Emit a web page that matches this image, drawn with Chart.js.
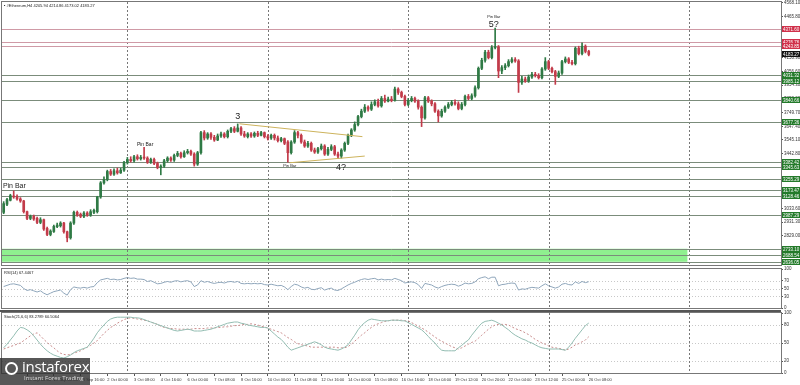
<!DOCTYPE html>
<html><head><meta charset="utf-8">
<script src="https://cdn.jsdelivr.net/npm/chart.js@4"></script>
<style>
html,body{margin:0;padding:0;background:#fff;}
#wrap{position:relative;width:800px;height:385px;overflow:hidden;}
canvas{position:absolute;left:0;}
#logo{position:absolute;left:0;top:358px;width:90px;height:27px;background:rgba(45,45,45,0.8);color:#fff;font-family:"Open Sans","Liberation Sans",sans-serif;}
#logo .big{position:absolute;left:22px;top:0px;font-size:15px;line-height:17px;letter-spacing:-0.3px;}
#logo .small{position:absolute;left:24px;top:17px;font-size:6px;line-height:7px;color:#ddd;}
#logo .ico{position:absolute;left:5px;top:4px;width:13px;height:13px;border-radius:50%;border:2px solid #fff;box-sizing:border-box;}
</style></head><body>
<div id="wrap">
<canvas id="c1" width="800" height="266" style="top:0px"></canvas>
<canvas id="c2" width="800" height="44" style="top:266px"></canvas>
<canvas id="c3" width="800" height="75" style="top:310px"></canvas>
<div id="logo"><div class="ico"></div><div class="big">instaforex</div><div class="small">Instant Forex Trading</div></div>
</div>
<script>
// ===== DATA =====
const opens = [3005,3065,3095,3125,3122,3105,3090,3010,2960,2975, 2960,2930,2950,2885,2840,2862,2898,2905,2925,2860,
 2815,2925,3005,2990,2975,3000,2985,3005,3010,3120, 3225,3250,3310,3290,3315,3300,3320,3375,3400,3390,
 3420,3405,3415,3410,3380,3400,3370,3340,3350,3390, 3410,3395,3430,3445,3420,3450,3460,3440,3365,3450,
 3600,3560,3590,3565,3545,3575,3590,3570,3610,3630, 3610,3635,3590,3570,3590,3575,3595,3580,3600,3570,
 3560,3580,3560,3540,3555,3530,3450,3530,3600,3580, 3530,3500,3520,3470,3455,3480,3500,3440,3475,3495,
 3440,3425,3470,3520,3580,3620,3660,3720,3760,3790, 3775,3810,3830,3800,3855,3835,3850,3840,3925,3900,
 3870,3810,3840,3855,3835,3790,3710,3860,3835,3815, 3760,3725,3760,3790,3810,3825,3815,3780,3810,3870,
 3855,3875,3935,4080,4140,4200,4160,4235,4240,4060, 4085,4100,4130,4145,4135,3975,4000,3985,4015,4035,
 4025,4010,4075,4130,4080,4055,4020,4045,4130,4150, 4125,4115,4230,4190,4245,4205.94];
const highs = [3085,3110,3140,3165,3135,3115,3095,3015,2985,2985, 2970,2965,2955,2895,2875,2910,2925,2935,2930,2865,
 2935,3015,3015,3000,3010,3010,3025,3030,3125,3235, 3270,3320,3325,3330,3335,3335,3385,3415,3420,3430,
 3435,3430,3490,3420,3410,3410,3380,3360,3400,3420, 3420,3440,3460,3455,3465,3475,3470,3450,3460,3610,
 3615,3600,3600,3580,3590,3605,3600,3620,3640,3645, 3665,3645,3610,3600,3600,3605,3610,3610,3605,3585,
 3590,3590,3575,3565,3560,3540,3540,3615,3610,3590, 3545,3535,3530,3485,3490,3515,3510,3490,3510,3505,
 3455,3480,3530,3590,3630,3680,3730,3775,3810,3800, 3830,3845,3850,3870,3880,3865,3870,3940,3935,3910,
 3880,3855,3870,3865,3845,3800,3870,3870,3845,3825, 3770,3775,3800,3825,3840,3845,3830,3825,3880,3885,
 3890,3950,4090,4155,4215,4215,4250,4380,4250,4100, 4115,4145,4160,4160,4145,4020,4015,4030,4050,4050,
 4040,4085,4160,4140,4090,4065,4060,4140,4165,4160, 4140,4240,4245,4270,4255,4214.86];
const lows = [2995,3055,3090,3110,3095,3080,3000,2950,2950,2945, 2920,2920,2870,2830,2830,2855,2890,2895,2850,2785,
 2805,2915,2975,2965,2965,2975,2975,2995,3000,3110, 3215,3240,3280,3280,3290,3295,3310,3365,3380,3380,
 3395,3395,3400,3370,3370,3360,3330,3285,3340,3380, 3385,3385,3420,3410,3415,3440,3430,3350,3355,3440,
 3545,3550,3550,3535,3540,3565,3560,3560,3600,3600, 3605,3580,3565,3560,3565,3565,3570,3575,3560,3545,
 3550,3545,3530,3530,3510,3380,3440,3520,3560,3520, 3490,3490,3460,3445,3445,3470,3430,3430,3465,3430,
 3405,3410,3460,3510,3570,3610,3650,3710,3750,3760, 3765,3800,3790,3790,3825,3830,3830,3835,3885,3860,
 3800,3800,3830,3825,3775,3645,3700,3825,3800,3750, 3680,3715,3750,3780,3800,3805,3770,3770,3800,3845,
 3845,3865,3925,4070,4125,4150,4150,4225,4010,4040, 4070,4090,4120,4125,3900,3960,3975,3975,4005,4015,
 4000,4000,4065,4070,4045,3960,4010,4035,4120,4115, 4105,4105,4180,4180,4195,4173.02];
const closes = [3070,3100,3130,3120,3105,3090,3010,2960,2975,2955, 2930,2950,2880,2840,2865,2900,2910,2925,2860,2815,
 2925,3005,2985,2975,3000,2985,3010,3020,3120,3225, 3250,3310,3290,3315,3300,3320,3375,3400,3390,3420,
 3405,3415,3410,3380,3400,3370,3340,3350,3390,3410, 3395,3430,3445,3420,3450,3460,3440,3365,3450,3600,
 3560,3590,3565,3545,3575,3590,3570,3610,3630,3610, 3635,3590,3575,3590,3575,3595,3580,3600,3570,3560,
 3580,3560,3540,3555,3520,3450,3530,3600,3580,3530, 3500,3520,3470,3455,3480,3500,3440,3475,3495,3440,
 3425,3470,3520,3580,3620,3660,3720,3760,3790,3775, 3810,3830,3800,3855,3835,3850,3840,3925,3900,3870,
 3810,3840,3855,3835,3790,3710,3860,3835,3815,3760, 3725,3760,3790,3810,3825,3815,3780,3810,3870,3855,
 3875,3935,4080,4140,4200,4160,4235,4240,4060,4085, 4100,4130,4145,4135,3975,4000,3985,4015,4035,4025,
 4010,4075,4130,4080,4055,4020,4045,4130,4150,4125, 4115,4230,4190,4245,4206,4183.27];

const rsiValues = [55,58,61,62,60,58,50,45,47,44, 41,44,38,34,38,42,44,46,38,33,
 47,54,52,51,53,51,54,55,65,72, 74,76,73,74,72,73,76,78,76,77,
 74,74,73,68,70,66,62,63,66,68, 66,69,70,67,69,70,67,55,59,70,
 66,68,65,63,65,66,64,67,68,66, 68,63,62,63,62,63,62,63,60,59,
 61,59,57,58,54,47,55,61,59,54, 51,53,48,47,50,52,46,49,51,46,
 45,49,54,59,63,66,70,73,75,73, 75,76,72,74,72,73,72,76,73,70,
 64,66,67,65,60,50,63,61,59,54, 51,55,58,60,61,60,56,59,64,62,
 63,67,75,78,80,75,79,79,57,60, 61,63,64,63,46,49,48,51,53,52,
 51,57,62,57,54,51,54,61,63,60, 59,67,63,68,65,67.45];

const stochMain = [42,48,55,62,70,76,75,72,68,62, 55,48,42,37,33,30,28,26,25,27,
 30,34,37,39,41,43,50,58,67,74, 80,86,90,92,93,93,93,93,93,92,
 92,91,89,87,85,83,81,79,77,75, 73,71,70,71,72,73,72,70,70,70,
 71,72,73,75,77,79,81,83,84,85, 85,83,82,80,79,78,77,76,76,75,
 70,65,60,56,50,43,38,40,42,44, 46,48,50,52,50,47,43,41,40,39,
 38,40,43,47,55,63,72,79,84,88, 90,89,88,87,87,87,88,88,88,87,
 87,84,81,78,75,72,67,61,55,50, 43,38,37,37,37,37,42,46,51,55,
 63,70,77,83,86,87,88,86,83,80, 76,72,67,63,60,57,55,52,50,47,
 44,42,41,40,40,40,40,39,38,43, 50,58,65,72,79,83.28];

const stochSignal = [40,42,44,46,48,50,54,58,62,65, 67,62,56,51,46,42,37,33,31,30,
 31,33,35,37,40,43,46,50,54,60, 66,71,76,79,83,86,89,91,92,91,
 90,89,88,87,85,83,81,78,76,75, 74,74,73,73,73,73,73,74,74,74,
 74,75,75,75,76,76,77,77,78,79, 79,80,81,81,82,81,80,78,77,75,
 73,71,69,67,63,59,56,52,49,47, 46,45,43,43,43,43,43,43,43,43,
 42,42,42,44,48,53,58,63,67,72, 76,80,82,84,86,87,88,88,88,88,
 87,87,84,81,78,75,72,68,64,60, 56,53,50,47,44,42,40,42,45,48,
 51,53,58,63,68,73,77,80,81,81, 81,80,77,74,72,70,67,64,60,56,
 53,50,48,45,43,42,41,40,38,40, 43,47,49,52,55,60.51];

const priceTicks = [4568.10,4465.80,4363.50,4261.20,4158.90,4056.60,3954.30,3852.00,3749.70,3647.40,
 3545.10,3442.80,3340.50,3238.20,3135.90,3033.60,2931.30,2829.00,2726.70,2624.40];
const levelValues = [4371.60,4276.76,4243.85,4031.32,3985.12,3840.66,3677.36,3382.42,3345.63,3255.29,3173.47,3128.46,2987.29,2733.10,2688.54,2636.05];
const levelKinds  = ['r','r','r','g','g','g','g','g','g','g','g','g','g','g','g','g'];
const lastPrice = 4183.27;
const zoneTop = 2733.10, zoneBottom = 2636.05, zoneEndBar = 204.5;
const trendUpper = [{x:70.5,y:3666},{x:107.3,y:3570}];
const trendLower = [{x:85.5,y:3375},{x:108,y:3425}];
const annoText  = ['Pin Bar','Pin Bar','3','Pin Bar','4?','Pin Bar','5?'];
const annoBar   = [3.2,42.3,70,85.6,100.9,146.6,146.6];
const annoPrice = [3203,3509,3718,3352,3337,4464,4404];
const annoSize  = [7,5,9,4,9,4,9];
const separators = [37,79,121,163,205];
const xTickLabels = ['28 Sep 00:00','29 Sep 08:00','30 Sep 16:00','2 Oct 00:00','3 Oct 08:00','4 Oct 16:00','6 Oct 00:00','7 Oct 08:00','8 Oct 16:00','10 Oct 00:00','11 Oct 08:00','12 Oct 16:00','14 Oct 00:00','15 Oct 08:00','16 Oct 16:00','18 Oct 04:00','19 Oct 12:00','20 Oct 20:00','22 Oct 04:00','23 Oct 12:00','25 Oct 00:00','26 Oct 08:00'];
const firstTickBar = 7, tickStep = 8;
const rsiTicks = [100,70,50,30,0];
const rsiLevels = [70,50,30];
const stochTicks = [100,80,50,20,0];
const stochLevels = [80,50,20];
const headerMain = '\u25AA #Ethereum,H4 4205.94 4214.86 4173.02 4183.27';
const headerRsi = 'RSI(14) 67.4467';
const headerStoch = 'Stoch(21,6,6) 83.2789 60.5064';

// ===== STYLE / BUILD =====
const FONT = '"Liberation Sans", Arial, sans-serif';
const XMIN = -0.5, XMAX = 232.5;
const AXW = 19;
const bull = '#2f7a45', bear = '#c23b4a';
const candleColors = closes.map((c,i)=> c>=opens[i] ? bull : bear);
const bodies = closes.map((c,i)=>({x:i, y:[opens[i], c]}));
const wicks = closes.map((c,i)=>({x:i, y:[lows[i], highs[i]]}));

function xScaleHidden(){ return {type:'linear', min:XMIN, max:XMAX, display:false, offset:false}; }
function yRight(min,max,ticksArr,fmt){
  return {position:'right', min, max,
    afterFit:s=>{s.width=AXW; s.paddingTop=0; s.paddingBottom=0;},
    afterBuildTicks:s=>{s.ticks = ticksArr.map(v=>({value:v}));},
    ticks:{autoSkip:false, font:{size:4.5,family:FONT}, color:'#333', padding:1, callback:fmt},
    grid:{display:true, drawOnChartArea:false, tickLength:2, color:'#555'},
    border:{display:true, color:'#555'}};
}
function drawSeparators(ctx, a, x){
  ctx.save(); ctx.strokeStyle='#777'; ctx.lineWidth=1; ctx.setLineDash([2,2]);
  separators.forEach(b=>{const px=Math.round(x.getPixelForValue(b))+0.5; ctx.beginPath(); ctx.moveTo(px,a.top); ctx.lineTo(px,a.bottom); ctx.stroke();});
  ctx.restore();
}
function drawFrame(ctx, a){
  ctx.save(); ctx.strokeStyle='#777'; ctx.lineWidth=1;
  ctx.strokeRect(a.left-0.5, a.top-0.5, a.right-a.left+1, a.bottom-a.top+1);
  ctx.restore();
}
function drawHeader(ctx, a, txt){
  ctx.save(); ctx.fillStyle='#222'; ctx.font='4px '+FONT; ctx.textBaseline='top'; ctx.textAlign='left';
  ctx.fillText(txt, a.left+2, a.top+1.5); ctx.restore();
}
function drawLevelLines(ctx, a, y, vals){
  ctx.save(); ctx.strokeStyle='#c8c8c8'; ctx.lineWidth=1; ctx.setLineDash([1,2]);
  vals.forEach(v=>{const py=Math.round(y.getPixelForValue(v))+0.5; ctx.beginPath(); ctx.moveTo(a.left,py); ctx.lineTo(a.right,py); ctx.stroke();});
  ctx.restore();
}

const mainDeco = {
  id:'mainDeco',
  beforeDatasetsDraw(chart){
    const {ctx, chartArea:a, scales:{x,y}} = chart;
    ctx.save();
    const zx1 = a.left, zx2 = x.getPixelForValue(zoneEndBar);
    const zy1 = y.getPixelForValue(zoneTop), zy2 = y.getPixelForValue(zoneBottom);
    ctx.fillStyle='#8ff08f'; ctx.fillRect(zx1, zy1, zx2-zx1, zy2-zy1);
    ctx.restore();
    drawSeparators(ctx, a, x);
    ctx.save(); ctx.lineWidth=1;
    levelValues.forEach((v,i)=>{
      const py=Math.round(y.getPixelForValue(v))+0.5;
      ctx.strokeStyle = levelKinds[i]==='r' ? '#cf9aa6' : '#7b8c7b';
      ctx.beginPath(); ctx.moveTo(a.left,py); ctx.lineTo(a.right,py); ctx.stroke();
    });
    ctx.restore();
  },
  afterDraw(chart){
    const {ctx, chartArea:a, scales:{x,y}} = chart;
    drawFrame(ctx, a);
    drawHeader(ctx, a, headerMain);
    ctx.save(); ctx.fillStyle='#222'; ctx.textAlign='center'; ctx.textBaseline='middle';
    annoText.forEach((t,i)=>{
      ctx.font = annoSize[i]+'px '+FONT;
      ctx.fillText(t, x.getPixelForValue(annoBar[i]), y.getPixelForValue(annoPrice[i]));
    });
    ctx.restore();
    ctx.save(); ctx.font='4.5px '+FONT; ctx.textBaseline='middle'; ctx.textAlign='left';
    const box=(v,bg)=>{const py=Math.round(y.getPixelForValue(v)); ctx.fillStyle=bg; ctx.fillRect(a.right+1, py-3, 800-a.right-1, 6); ctx.fillStyle='#fff'; ctx.fillText(v.toFixed(2), a.right+2, py+0.5);};
    levelValues.forEach((v,i)=> box(v, levelKinds[i]==='r' ? '#d0304a' : '#237a2a'));
    box(lastPrice, '#111');
    ctx.restore();
  }
};

new Chart(document.getElementById('c1'), {
  type:'bar',
  data:{datasets:[
    {type:'bar', data:wicks, backgroundColor:candleColors, barThickness:1, grouped:false, order:3},
    {type:'bar', data:bodies, backgroundColor:candleColors, barThickness:2, grouped:false, minBarLength:1, order:2},
    {type:'line', data:trendUpper, borderColor:'#cdb35c', borderWidth:1, pointRadius:0, order:1},
    {type:'line', data:trendLower, borderColor:'#cdb35c', borderWidth:1, pointRadius:0, order:1}
  ]},
  options:{responsive:false, animation:false, events:[],
    layout:{padding:{left:2,top:2,bottom:1,right:0}},
    plugins:{legend:{display:false}, tooltip:{enabled:false}},
    scales:{x:xScaleHidden(), y:yRight(2612,4575,priceTicks,v=>v.toFixed(2))}
  },
  plugins:[mainDeco]
});

const rsiDeco = {
  id:'rsiDeco',
  beforeDatasetsDraw(chart){ const {ctx, chartArea:a, scales:{x,y}} = chart; drawLevelLines(ctx,a,y,rsiLevels); drawSeparators(ctx,a,x); },
  afterDraw(chart){ const {ctx, chartArea:a} = chart; drawFrame(ctx,a); drawHeader(ctx,a,headerRsi); }
};
new Chart(document.getElementById('c2'), {
  type:'line',
  data:{datasets:[{data:rsiValues.map((v,i)=>({x:i,y:v})), borderColor:'#8fa6bb', borderWidth:1, pointRadius:0, tension:0}]},
  options:{responsive:false, animation:false, events:[],
    layout:{padding:{left:2,top:3,bottom:2,right:0}},
    plugins:{legend:{display:false}, tooltip:{enabled:false}},
    scales:{x:xScaleHidden(), y:yRight(0,100,rsiTicks,v=>String(v))}
  },
  plugins:[rsiDeco]
});

const stochDeco = {
  id:'stochDeco',
  beforeDatasetsDraw(chart){ const {ctx, chartArea:a, scales:{x,y}} = chart; drawLevelLines(ctx,a,y,stochLevels); drawSeparators(ctx,a,x); },
  afterDraw(chart){
    const {ctx, chartArea:a} = chart; drawFrame(ctx,a); drawHeader(ctx,a,headerStoch);
    ctx.save(); ctx.strokeStyle='#555'; ctx.lineWidth=2; ctx.beginPath(); ctx.moveTo(0,a.top-2); ctx.lineTo(a.right,a.top-2); ctx.stroke(); ctx.restore();
  }
};
new Chart(document.getElementById('c3'), {
  type:'line',
  data:{datasets:[
    {data:stochMain.map((v,i)=>({x:i,y:v})), borderColor:'#93bdb2', borderWidth:1, pointRadius:0, tension:0},
    {data:stochSignal.map((v,i)=>({x:i,y:v})), borderColor:'#c98c8c', borderWidth:1, borderDash:[2,2], pointRadius:0, tension:0}
  ]},
  options:{responsive:false, animation:false, events:[],
    layout:{padding:{left:2,top:3,bottom:0,right:0}},
    plugins:{legend:{display:false}, tooltip:{enabled:false}},
    scales:{
      x:{type:'linear', min:XMIN, max:XMAX, offset:false,
        afterBuildTicks:s=>{s.ticks = xTickLabels.map((t,k)=>({value:firstTickBar+tickStep*k}));},
        afterFit:s=>{s.height=12; s.paddingLeft=0; s.paddingRight=0;},
        ticks:{autoSkip:false, maxRotation:0, minRotation:0, align:'start', font:{size:4,family:FONT}, color:'#333', padding:1,
          callback:(v,idx)=>xTickLabels[idx]},
        grid:{display:true, drawOnChartArea:false, tickLength:3, color:'#555'},
        border:{display:true, color:'#555'}},
      y:yRight(0,100,stochTicks,v=>String(v))
    }
  },
  plugins:[stochDeco]
});
</script>
</body></html>
